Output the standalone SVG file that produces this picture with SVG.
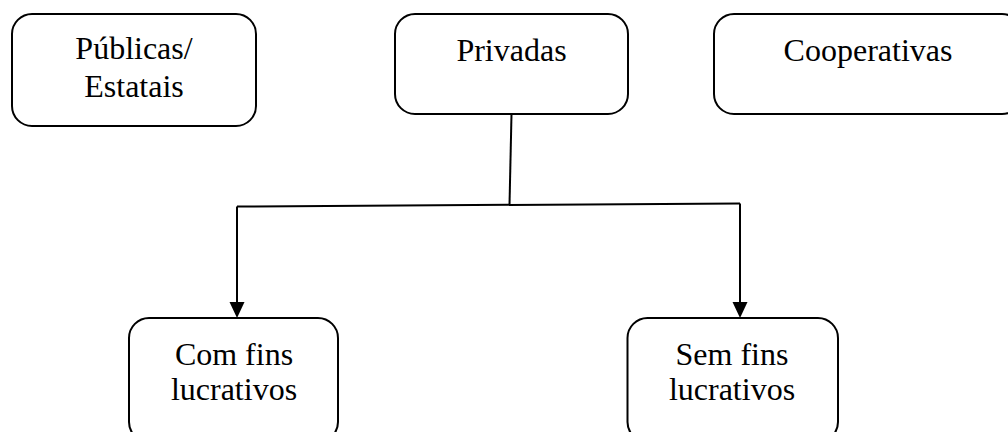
<svg xmlns="http://www.w3.org/2000/svg" width="1008" height="432" viewBox="0 0 1008 432">
<style>
.box{fill:#fff;stroke:#000;stroke-width:2}
.t{font-family:"Liberation Serif","Times New Roman",serif;font-size:32px;fill:#000;text-anchor:middle}
.c{stroke:#000;stroke-width:2;fill:none}
</style>
<rect width="1008" height="432" fill="#fff"/>
<g id="connectors">
<line class="c" x1="511.5" y1="114" x2="509.5" y2="205"/>
<line class="c" x1="237" y1="206.5" x2="740" y2="203.5"/>
<path d="M237,206.5 L237,303" class="c"/>
<polygon points="229.5,302 244.5,302 237,318" fill="#000"/>
<path d="M740,203.5 L740,302" class="c"/>
<polygon points="732.5,302 747.5,302 740,318" fill="#000"/>
</g>
<g id="publicas">
<rect class="box" x="12" y="14" width="244" height="112" rx="20"/>
<text class="t" x="134" y="59">Públicas/</text>
<text class="t" x="134" y="97">Estatais</text>
</g>
<g id="privadas">
<rect class="box" x="395" y="14" width="233" height="100" rx="20"/>
<text class="t" x="511.5" y="61">Privadas</text>
</g>
<g id="cooperativas">
<rect class="box" x="714" y="14" width="308" height="100" rx="20"/>
<text class="t" x="868" y="61">Cooperativas</text>
</g>
<g id="com-fins">
<rect class="box" x="129" y="318" width="209" height="124" rx="20"/>
<text class="t" x="234" y="365">Com fins</text>
<text class="t" x="234" y="400">lucrativos</text>
</g>
<g id="sem-fins">
<rect class="box" x="627.5" y="318" width="210.5" height="124" rx="20"/>
<text class="t" x="732" y="365">Sem fins</text>
<text class="t" x="732" y="400">lucrativos</text>
</g>
</svg>
